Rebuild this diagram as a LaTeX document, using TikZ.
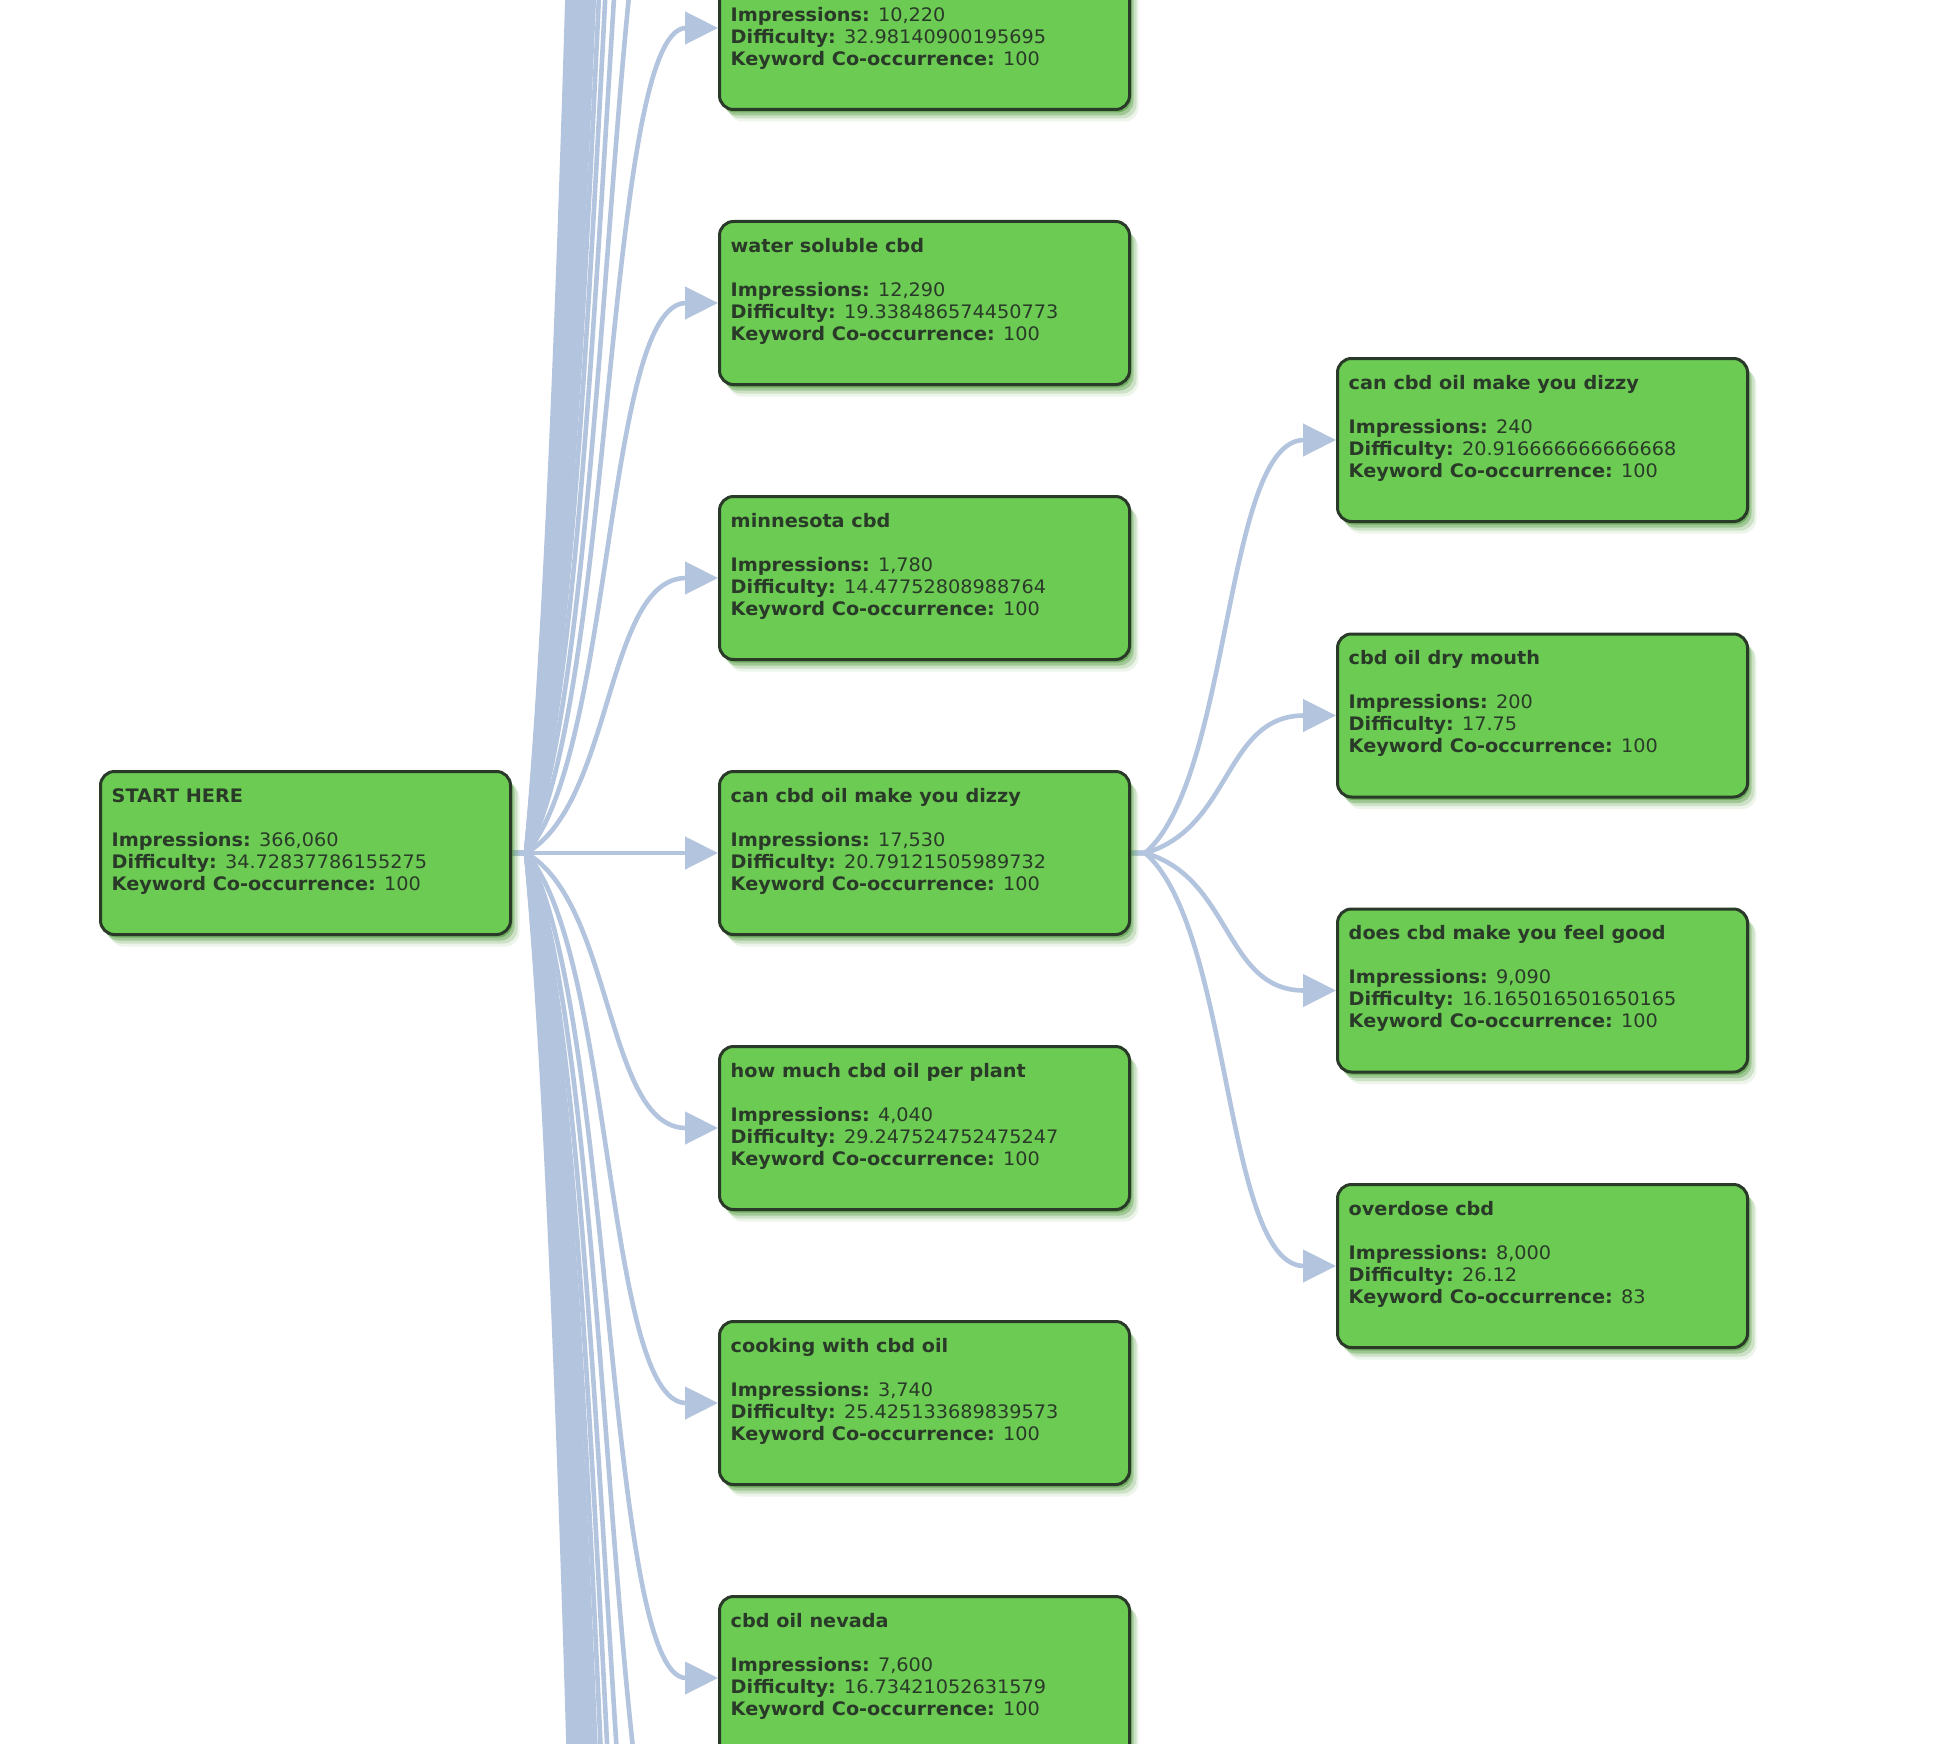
\documentclass[tikz,border=0pt]{standalone}
\usepackage{fontspec}
\setmainfont{DejaVu Sans}[FakeStretch=1.035]
\usetikzlibrary{calc,shadows,arrows.meta}
\definecolor{boxfill}{HTML}{6CCB53}
\definecolor{boxline}{HTML}{2A3A28}
\definecolor{txtc}{HTML}{2A3A28}
\definecolor{edgec}{HTML}{B3C4DE}
\definecolor{shadowc}{HTML}{4F9A3A}
\pgfdeclarelayer{bg}
\pgfsetlayers{bg,main}
\newcommand\kwtext[4]{\rule{0pt}{14.2pt}\textbf{#1}\\[22pt]\textbf{Impressions:} #2\\\textbf{Difficulty:} #3\\\textbf{Keyword Co-occurrence:} #4}
\newcommand\kedge[2]{%
  \draw[edgeline] let \p1=($(#1.east)+(14pt,0pt)$), \p2=($(#2)-(33pt,0pt)$) in
    (#1.east) -- (\p1) .. controls ($(\p1)+({0.55*(\x2-\x1)},{0.18*(\y2-\y1)})$)
    and ($(\p2)-({0.5*(\x2-\x1)},0pt)$) .. (#2);}
\begin{document}
\begin{tikzpicture}[x=1pt,y=-1pt,
  kwbox/.style={draw=boxline, line width=3pt, fill=boxfill, rounded corners=14pt,
    minimum width=410pt, minimum height=163pt, inner sep=0pt,
    drop shadow={shadow xshift=2pt, shadow yshift=-3pt, fill=shadowc, opacity=.55},
    drop shadow={shadow xshift=4pt, shadow yshift=-6pt, fill=shadowc, opacity=.35},
    drop shadow={shadow xshift=7pt, shadow yshift=-9pt, fill=shadowc, opacity=.2},
    drop shadow={shadow xshift=9pt, shadow yshift=-12pt, fill=shadowc, opacity=.1}},
  txtnode/.style={anchor=north west, inner sep=0pt, align=left, text=txtc,
    font=\fontsize{18.6pt}{22pt}\selectfont},
  edgeline/.style={draw=edgec, line width=4.6pt, -{Triangle[length=33pt,width=32pt]}}]
\useasboundingbox (0,0) rectangle (1938,1744);
\clip (0,0) rectangle (1938,1744);

% column 1
\node[kwbox] (start) at (305.5,853) {};
\node[txtnode] (startt) at ([xshift=12.5pt,yshift=-18pt]start.north west) {\kwtext{START HERE}{366,060}{34.72837786155275}{100}};

% column 2
\node[kwbox] (ka) at (924.5,28) {};
\node[txtnode] (kat) at ([xshift=12.5pt,yshift=-18pt]ka.north west) {\kwtext{}{10,220}{32.98140900195695}{100}};
\node[kwbox] (kb) at (924.5,303) {};
\node[txtnode] (kbt) at ([xshift=12.5pt,yshift=-18pt]kb.north west) {\kwtext{water soluble cbd}{12,290}{19.338486574450773}{100}};
\node[kwbox] (kc) at (924.5,578) {};
\node[txtnode] (kct) at ([xshift=12.5pt,yshift=-18pt]kc.north west) {\kwtext{minnesota cbd}{1,780}{14.47752808988764}{100}};
\node[kwbox] (kd) at (924.5,853) {};
\node[txtnode] (kdt) at ([xshift=12.5pt,yshift=-18pt]kd.north west) {\kwtext{can cbd oil make you dizzy}{17,530}{20.79121505989732}{100}};
\node[kwbox] (ke) at (924.5,1128) {};
\node[txtnode] (ket) at ([xshift=12.5pt,yshift=-18pt]ke.north west) {\kwtext{how much cbd oil per plant}{4,040}{29.247524752475247}{100}};
\node[kwbox] (kf) at (924.5,1403) {};
\node[txtnode] (kft) at ([xshift=12.5pt,yshift=-18pt]kf.north west) {\kwtext{cooking with cbd oil}{3,740}{25.425133689839573}{100}};
\node[kwbox] (kg) at (924.5,1678) {};
\node[txtnode] (kgt) at ([xshift=12.5pt,yshift=-18pt]kg.north west) {\kwtext{cbd oil nevada}{7,600}{16.73421052631579}{100}};

% column 3
\node[kwbox] (la) at (1542.5,440) {};
\node[txtnode] (lat) at ([xshift=12.5pt,yshift=-18pt]la.north west) {\kwtext{can cbd oil make you dizzy}{240}{20.916666666666668}{100}};
\node[kwbox] (lb) at (1542.5,715.5) {};
\node[txtnode] (lbt) at ([xshift=12.5pt,yshift=-18pt]lb.north west) {\kwtext{cbd oil dry mouth}{200}{17.75}{100}};
\node[kwbox] (lc) at (1542.5,990.5) {};
\node[txtnode] (lct) at ([xshift=12.5pt,yshift=-18pt]lc.north west) {\kwtext{does cbd make you feel good}{9,090}{16.165016501650165}{100}};
\node[kwbox] (ld) at (1542.5,1266) {};
\node[txtnode] (ldt) at ([xshift=12.5pt,yshift=-18pt]ld.north west) {\kwtext{overdose cbd}{8,000}{26.12}{83}};

% targets of the edges that leave the frame
\foreach \k in {1,...,16} {
  \coordinate (up\k) at (719.5,{28-275*\k});
  \coordinate (dn\k) at (719.5,{1678+275*\k});
}

\begin{pgfonlayer}{bg}
  \fill[white] (0,0) rectangle (1938,1744);
  \clip (0,0) rectangle (1938,1744);
  \foreach \k in {1,...,16} {
    \kedge{start}{up\k}
    \kedge{start}{dn\k}
  }
  \kedge{start}{ka.west}
  \kedge{start}{kb.west}
  \kedge{start}{kc.west}
  \kedge{start}{kd.west}
  \kedge{start}{ke.west}
  \kedge{start}{kf.west}
  \kedge{start}{kg.west}
  \kedge{kd}{la.west}
  \kedge{kd}{lb.west}
  \kedge{kd}{lc.west}
  \kedge{kd}{ld.west}
\end{pgfonlayer}
\end{tikzpicture}
\end{document}
